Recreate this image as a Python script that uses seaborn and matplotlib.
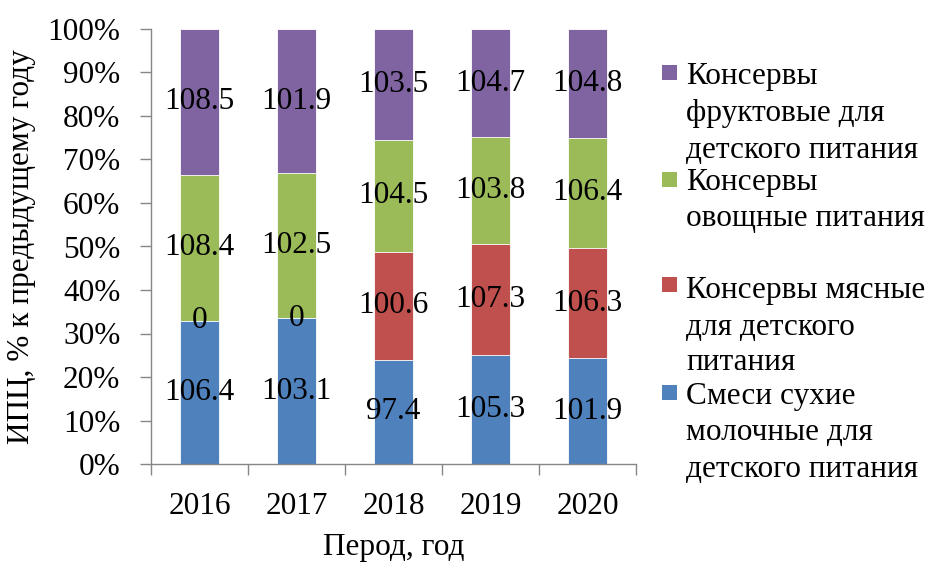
import numpy as np
import pandas as pd
import matplotlib
matplotlib.use("Agg")
import matplotlib.pyplot as plt
from matplotlib.patches import Rectangle
import seaborn as sns

years = ["2016", "2017", "2018", "2019", "2020"]
dry_mix = [106.4, 103.1, 97.4, 105.3, 101.9]
meat = [0, 0, 100.6, 107.3, 106.3]
veg = [108.4, 102.5, 104.5, 103.8, 106.4]
fruit = [108.5, 101.9, 103.5, 104.7, 104.8]

series_names = [
    "Смеси сухие\nмолочные для\nдетского питания",
    "Консервы мясные\nдля детского\nпитания",
    "Консервы\nовощные питания",
    "Консервы\nфруктовые для\nдетского питания",
]
series_vals = [dry_mix, meat, veg, fruit]
colors = ["#4F81BD", "#C0504D", "#9BBB59", "#8064A2"]

sns.set_style("white")
plt.rcParams["font.family"] = ["Liberation Serif", "DejaVu Serif"]
plt.rcParams["text.color"] = "black"
plt.rcParams["axes.labelcolor"] = "black"
plt.rcParams["xtick.color"] = "black"
plt.rcParams["ytick.color"] = "black"
FS = 22.5

fig = plt.figure(figsize=(9.32, 5.62), dpi=100)
ax = fig.add_axes([151 / 932, 1 - 464 / 562, 485 / 932, 435 / 562])

vals = np.array(series_vals, dtype=float)
totals = vals.sum(axis=0)
shares = vals / totals * 100
cum = np.cumsum(shares, axis=0)

# draw from top cumulative down so lower layers overlay
for k in range(len(series_vals) - 1, -1, -1):
    df = pd.DataFrame({"year": years, "v": cum[k]})
    sns.barplot(data=df, x="year", y="v", color=colors[k], saturation=1,
                width=0.4, ax=ax, edgecolor="white", linewidth=0.6)

for k in range(len(series_vals)):
    for i in range(len(years)):
        bottom = cum[k][i] - shares[k][i]
        y = bottom + shares[k][i] / 2
        v = series_vals[k][i]
        txt = f"{v:g}" if v != 0 else "0"
        ax.text(i, y, txt, ha="center", va="center", fontsize=FS, color="black")

ax.set_xlim(-0.5, 4.5)
ax.set_ylim(0, 100)
ax.set_yticks(np.arange(0, 101, 10))
ax.set_yticklabels([f"{t}%" for t in range(0, 101, 10)], fontsize=FS)
ax.set_xticks(range(len(years)))
ax.set_xticklabels(years)
ax.set_xticks(np.arange(-0.5, 5, 1), minor=True)
ax.tick_params(axis="x", which="major", bottom=False, length=0, labelsize=FS, pad=20, labelcolor="black")
ax.tick_params(axis="x", which="minor", bottom=True, length=8, width=1, color="#868686", direction="out")
ax.tick_params(axis="y", left=True, length=8, width=1, color="#868686", direction="out", pad=14,
               labelcolor="black")
for s in ["top", "right"]:
    ax.spines[s].set_visible(False)
for s in ["left", "bottom"]:
    ax.spines[s].set_color("#868686")
    ax.spines[s].set_linewidth(1)
ax.set_xlabel("Перод, год", fontsize=FS, color="black")
ax.xaxis.label.set_va("baseline")
ax.xaxis.set_label_coords(0.5, (464 - 555) / 435)
ax.set_ylabel("ИПЦ, % к предыдущему году", fontsize=FS, labelpad=8, color="black")
ax.grid(False)

# manual legend (reverse order: fruit on top)
sq_tops = [65, 172, 277, 385]
baselines = [[84, 121, 158], [190, 226], [298, 335, 370], [404, 440, 477]]
for j, k in enumerate([3, 2, 1, 0]):
    fig.patches.append(Rectangle((662 / 932, 1 - (sq_tops[j] + 15) / 562), 15 / 932, 15 / 562,
                                 transform=fig.transFigure, facecolor=colors[k], edgecolor="none"))
    for line, b in zip(series_names[k].split("\n"), baselines[j]):
        fig.text(686 / 932, 1 - b / 562, line, fontsize=FS, va="baseline", ha="left", color="black")

fig.savefig("out.png", dpi=100)
